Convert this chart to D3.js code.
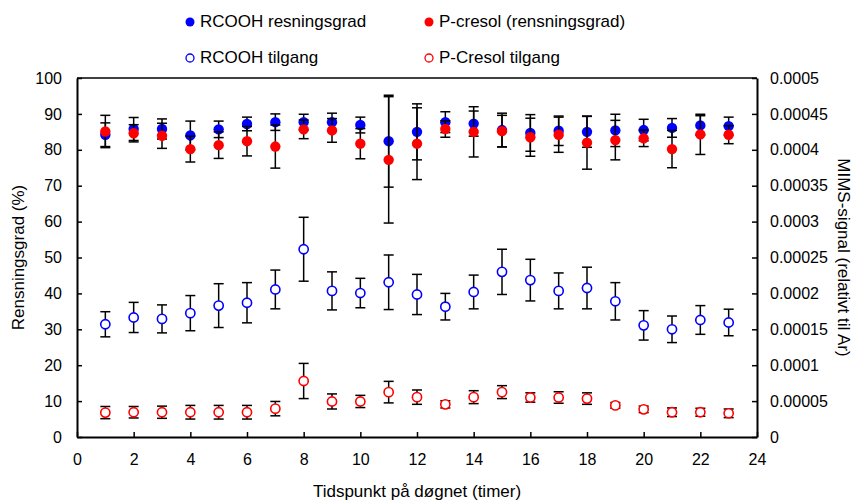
<!DOCTYPE html>
<html>
<head>
<meta charset="utf-8">
<title>Rensningsgrad</title>
<script src="https://cdn.jsdelivr.net/npm/d3@7/dist/d3.min.js"></script>
<style>
  body { margin: 0; background: #fff; }
  svg text { font-family: "Liberation Sans", Arial, sans-serif; fill: #000; }
</style>
</head>
<body>
<svg id="chart" width="860" height="502"></svg>
<script>
// hours of the day
var hours = [1,2,3,4,5,6,7,8,9,10,11,12,13,14,15,16,17,18,19,20,21,22,23];

// left axis (%)
var rcoohRens    = [84.2,85.8,85.8,84.0,85.7,87.2,87.7,87.7,87.7,86.9,82.4,85.0,87.7,87.3,85.5,84.7,85.3,85.0,85.4,85.5,86.1,86.8,86.6];
var rcoohRensErr = [3.3,3.2,2.8,4.0,2.3,1.9,2.3,2.2,2.5,2.2,12.8,7.8,2.9,3.5,4.7,5.1,4.1,4.3,4.5,3.0,2.6,2.7,2.5];
var pcresRens    = [85.1,84.6,83.9,80.2,81.3,82.4,80.9,85.7,85.4,81.7,77.2,81.7,85.8,85.0,85.2,83.5,84.2,82.0,82.7,83.2,80.2,84.3,84.2];
var pcresRensErr = [4.5,2.4,3.5,3.6,3.7,4.1,6.0,2.6,3.3,4.2,17.6,10.0,2.3,7.0,4.4,5.3,4.9,7.4,5.5,2.3,5.2,5.6,2.5];

// right axis (MIMS-signal)
var rcoohTilg    = [0.000157,0.0001665,0.0001645,0.0001725,0.000183,0.000187,0.0002055,0.0002615,0.0002035,0.0002005,0.0002155,0.0001985,0.0001815,0.000202,0.00023,0.0002185,0.0002035,0.0002075,0.000189,0.0001555,0.00015,0.000163,0.0001595];
var rcoohTilgErr = [0.0000175,0.000021,0.0000195,0.0000245,0.0000305,0.000028,0.000027,0.0000445,0.0000265,0.0000205,0.000038,0.000028,0.0000185,0.0000235,0.0000315,0.000029,0.000025,0.000029,0.000026,0.0000205,0.0000185,0.00002,0.0000185];
var pcresTilg    = [0.000034,0.0000345,0.0000345,0.0000345,0.0000345,0.0000345,0.0000395,0.000078,0.0000495,0.0000495,0.0000625,0.0000555,0.0000455,0.0000555,0.0000625,0.000055,0.000055,0.0000535,0.000044,0.0000385,0.0000345,0.0000345,0.000033];
var pcresTilgErr = [0.0000085,0.000008,0.0000085,0.0000095,0.0000095,0.0000095,0.00001,0.0000245,0.0000105,0.0000085,0.000015,0.00001,0.000005,0.000009,0.000009,0.0000065,0.000008,0.000008,0.000004,0.0000045,0.000006,0.0000055,0.000006];

var xTicks = [0,2,4,6,8,10,12,14,16,18,20,22,24];
var leftTicks = [0,10,20,30,40,50,60,70,80,90,100];
var rightTicks = [0,0.00005,0.0001,0.00015,0.0002,0.00025,0.0003,0.00035,0.0004,0.00045,0.0005];

var legendNames = ["RCOOH resningsgrad", "P-cresol (rensningsgrad)", "RCOOH tilgang", "P-Cresol tilgang"];
var legendColors = ["#0000ff", "#ff0000", "#0000ff", "#ff0000"];
var legendFilled = [true, true, false, false];

var svg = d3.select("#chart"),
    margin = {top: 78, right: 103, bottom: 65, left: 77},
    width = +svg.attr("width") - margin.left - margin.right,
    height = +svg.attr("height") - margin.top - margin.bottom;

var x = d3.scaleLinear().domain([0, 24]).range([0, width]),
    yL = d3.scaleLinear().domain([0, 100]).range([height, 0]),
    yR = d3.scaleLinear().domain([0, 0.0005]).range([height, 0]);

var g = svg.append("g").attr("transform", "translate(" + margin.left + "," + margin.top + ")");

// top frame line
g.append("line")
    .attr("x1", 0).attr("x2", width).attr("y1", 0).attr("y2", 0)
    .attr("stroke", "#404040").attr("stroke-width", 2);

// axes
var gx = g.append("g")
    .attr("transform", "translate(0," + height + ")")
    .call(d3.axisBottom(x).tickValues(xTicks).tickSizeInner(-5).tickSizeOuter(0).tickPadding(17));
var gl = g.append("g")
    .call(d3.axisLeft(yL).tickValues(leftTicks).tickSizeInner(-5).tickSizeOuter(0).tickPadding(15));
var gr = g.append("g")
    .attr("transform", "translate(" + width + ",0)")
    .call(d3.axisRight(yR).tickValues(rightTicks).tickSizeInner(-5).tickSizeOuter(0).tickPadding(13)
        .tickFormat(function(d) { return d === 0 ? "0" : String(+d.toFixed(5)); }));

[gx, gl, gr].forEach(function(a) {
    a.selectAll(".domain").attr("stroke", "#000").attr("stroke-width", 2);
    a.selectAll(".tick line").attr("stroke", "#000").attr("stroke-width", 1.5);
    a.selectAll("text").attr("font-size", 16).attr("font-family", null);
});

// axis titles
svg.append("text")
    .attr("x", margin.left + width / 2).attr("y", 497)
    .attr("text-anchor", "middle").attr("font-size", 17)
    .text("Tidspunkt på døgnet (timer)");
svg.append("text")
    .attr("transform", "translate(24," + (margin.top + height / 2) + ") rotate(-90)")
    .attr("text-anchor", "middle").attr("font-size", 17)
    .text("Rensningsgrad (%)");
svg.append("text")
    .attr("transform", "translate(838," + (margin.top + height / 2) + ") rotate(90)")
    .attr("text-anchor", "middle").attr("font-size", 17)
    .text("MIMS-signal (relativt til Ar)");

// series
function series(vals, errs, y, color, filled) {
    var s = g.append("g");
    var data = hours.map(function(h, i) { return {h: h, v: vals[i], e: errs[i]}; });
    var eb = s.selectAll(".eb").data(data).enter().append("g")
        .attr("stroke", "#000").attr("stroke-width", 1.5);
    eb.append("line")
        .attr("x1", function(d) { return x(d.h); }).attr("x2", function(d) { return x(d.h); })
        .attr("y1", function(d) { return y(d.v - d.e); }).attr("y2", function(d) { return y(d.v + d.e); });
    [-1, 1].forEach(function(sgn) {
        eb.append("line")
            .attr("x1", function(d) { return x(d.h) - 5; }).attr("x2", function(d) { return x(d.h) + 5; })
            .attr("y1", function(d) { return y(d.v + sgn * d.e); }).attr("y2", function(d) { return y(d.v + sgn * d.e); });
    });
    return function() {
        s.selectAll(".pt").data(data).enter().append("circle")
            .attr("cx", function(d) { return x(d.h); })
            .attr("cy", function(d) { return y(d.v); })
            .attr("r", filled ? 5.2 : 4.6)
            .attr("fill", filled ? color : "#fff")
            .attr("stroke", color).attr("stroke-width", filled ? 0 : 1.6);
    };
}

var drawers = [
    series(rcoohTilg, rcoohTilgErr, yR, "#0000ff", false),
    series(pcresTilg, pcresTilgErr, yR, "#ff0000", false),
    series(rcoohRens, rcoohRensErr, yL, "#0000ff", true),
    series(pcresRens, pcresRensErr, yL, "#ff0000", true)
];
drawers.forEach(function(f) { f(); });

// legend
var lg = svg.append("g");
legendNames.forEach(function(name, i) {
    var lx = i % 2 === 0 ? 190 : 429,
        ly = i < 2 ? 22 : 58;
    lg.append("circle")
        .attr("cx", lx).attr("cy", ly).attr("r", legendFilled[i] ? 4.5 : 4)
        .attr("fill", legendFilled[i] ? legendColors[i] : "#fff")
        .attr("stroke", legendColors[i]).attr("stroke-width", legendFilled[i] ? 0 : 1.3);
    lg.append("text")
        .attr("x", lx + 10).attr("y", ly + 5)
        .attr("font-size", 17)
        .text(name);
});
</script>
</body>
</html>
